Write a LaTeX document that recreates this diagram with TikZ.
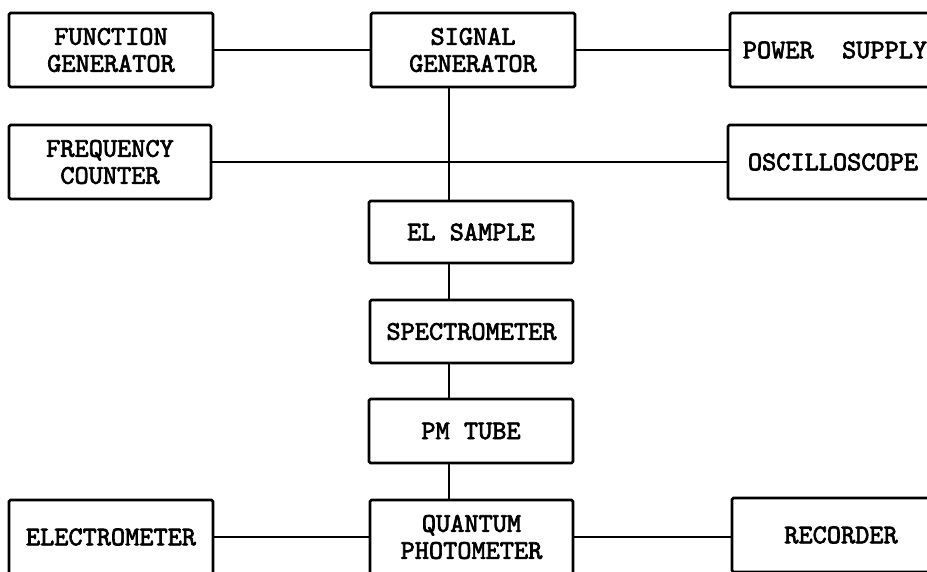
\documentclass[tikz,border=0pt]{standalone}
\font\boxfont="[lmmono10-regular.otf]:embolden=2.5" at 27pt
\begin{document}
\begin{tikzpicture}[x=1pt,y=-1pt,
  box/.style={draw, line width=2.8pt, rounded corners=1.5pt, minimum width=204pt,
    minimum height=74pt, align=center, inner sep=0pt,
    font={\boxfont\baselineskip=27pt}},
  link/.style={line width=1.5pt}]
\useasboundingbox (0,0) rectangle (927,571);
\clip (0,0) rectangle (927,571);
\node[box] (fg) at (111,50) {FUNCTION\\GENERATOR};
\node[box] (sg) at (473,50) {SIGNAL\\GENERATOR};
\node[box, minimum width=210pt] (ps) at (835,50) {POWER~~SUPPLY};
\node[box, minimum width=202pt] (fc) at (110,162) {FREQUENCY\\COUNTER};
\node[box, minimum width=210pt] (os) at (833,162) {OSCILLOSCOPE};
\node[box, minimum height=62pt] (el) at (471,232) {EL SAMPLE};
\node[box, minimum height=63pt, minimum width=203pt] (sp) at (471.5,331.5) {SPECTROMETER};
\node[box, minimum height=64pt] (pm) at (471,431) {PM TUBE};
\node[box, minimum width=203pt] (qp) at (471.5,537) {QUANTUM\\PHOTOMETER};
\node[box] (em) at (111,537) {ELECTROMETER};
\node[box, minimum width=218pt] (rc) at (841,535) {RECORDER};
\coordinate (vx) at (449,0);
\draw[link] (fg) -- (sg);
\draw[link] (sg) -- (ps);
\draw[link] (fc.east) -- (os.west);
\draw[link] (sg.south -| vx) -- (el.north -| vx);
\draw[link] (el.south -| vx) -- (sp.north -| vx);
\draw[link] (sp.south -| vx) -- (pm.north -| vx);
\draw[link] (pm.south -| vx) -- (qp.north -| vx);
\draw[link] (em) -- (qp);
\draw[link] (qp.east) -- (rc.west |- qp.east);
\end{tikzpicture}
\end{document}
